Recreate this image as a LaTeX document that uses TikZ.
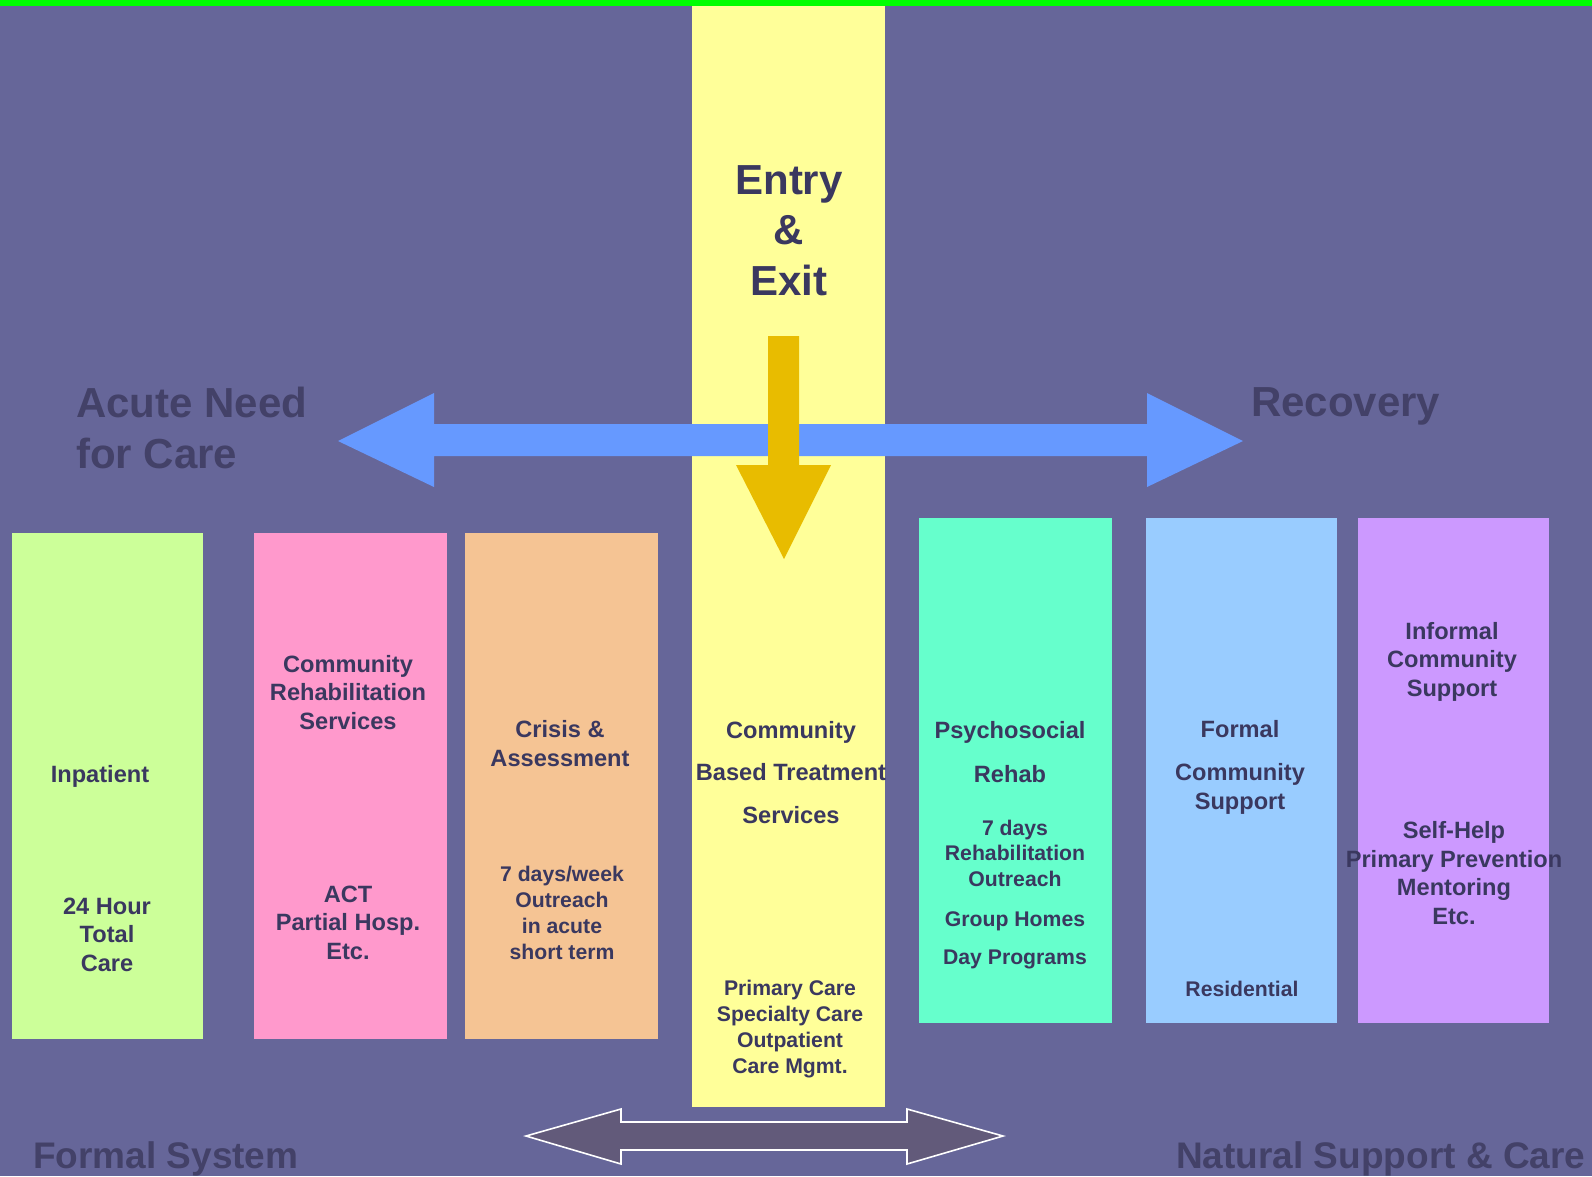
\documentclass[tikz,border=0pt]{standalone}
\usepackage{fontspec}
\setmainfont{Liberation Sans}
\usepackage{tikz}
\usetikzlibrary{calc}
\definecolor{bgpurple}{HTML}{666699}
\definecolor{topgreen}{HTML}{00FF00}
\definecolor{inkdark}{HTML}{3A385F}
\definecolor{inklabel}{HTML}{434168}
\definecolor{cgreen}{HTML}{CCFF99}
\definecolor{cpink}{HTML}{FF99CC}
\definecolor{corange}{HTML}{F5C494}
\definecolor{cyellow}{HTML}{FFFF99}
\definecolor{cteal}{HTML}{66FFCC}
\definecolor{cblue}{HTML}{99CCFF}
\definecolor{cviolet}{HTML}{CC99FF}
\definecolor{arrowblue}{HTML}{6699FF}
\definecolor{arrowgold}{HTML}{E8BC00}
\definecolor{arrowdark}{HTML}{625A7A}
% box: name, colour, left, top, right, bottom
\newcommand{\svcbox}[6]{\node[fill=#2, inner sep=0pt, anchor=north west, minimum width=#5pt-#3pt, minimum height=#6pt-#4pt] (#1) at (#3,#4) {};}
\newcommand{\bigfont}{\fontsize{42}{50.5}\selectfont\bfseries}
\newcommand{\midfont}{\fontsize{37}{44}\selectfont\bfseries}
\newcommand{\boxfont}{\fontsize{23.6}{28.5}\selectfont\bfseries}
\newcommand{\smallfont}{\fontsize{21.2}{25.7}\selectfont\bfseries}

\begin{document}
\begin{tikzpicture}[x=1pt, y=-1pt,
    lbl/.style={inner sep=0pt, anchor=base west, text=inklabel},
    txt/.style={inner sep=0pt, anchor=base, align=center, text=inkdark}]
        % (multi-line texts sit on the baseline of their last line)
        \useasboundingbox (0,0) rectangle (1592,1176);
        \fill[bgpurple] (0,0) rectangle (1592,1176);
        % centre column
        \svcbox{entry}{cyellow}{692}{0}{885}{1107}
        % arrows
        \fill[arrowblue] (338,441) -- (434,393) -- (434,424) -- (1147,424) -- (1147,393)
            -- (1243,441) -- (1147,487) -- (1147,456) -- (434,456) -- (434,487) -- cycle;
        \fill[arrowgold] (768,336) -- (799,336) -- (799,465) -- (831,465) -- (784,559)
            -- (736,465) -- (768,465) -- cycle;
        % left boxes
        \svcbox{inpat}{cgreen}{12}{533}{203}{1039}
        \svcbox{rehab}{cpink}{254}{533}{447}{1039}
        \svcbox{crisis}{corange}{465}{533}{658}{1039}
        % right boxes
        \svcbox{psych}{cteal}{919}{518}{1112}{1023}
        \svcbox{formal}{cblue}{1146}{518}{1337}{1023}
        \svcbox{informal}{cviolet}{1358}{518}{1549}{1023}
        % bottom arrow
        \filldraw[fill=arrowdark, draw=white, line width=1.6pt, line join=miter]
            (526,1136) -- (621,1109) -- (621,1122) -- (907,1122) -- (907,1109) -- (1003,1136)
            -- (907,1164) -- (907,1150) -- (621,1150) -- (621,1164) -- cycle;
        % big labels
        \node[txt, font=\bigfont] (entrytxt) at (789,295) {Entry\\\&\\Exit};
        \node[lbl, font=\bigfont, align=left] (acute) at (76,468) {Acute Need\\for Care};
        \node[lbl, font=\bigfont] (recovery) at (1251,416) {Recovery};
        \node[lbl, font=\midfont] (formalsys) at (33,1168) {Formal System};
        \node[lbl, font=\midfont] (natural) at (1176,1168) {Natural Support \& Care};
        % inpatient
        \node[txt, font=\boxfont] (inpat1) at (100,782) {Inpatient};
        \node[txt, font=\boxfont] (inpat2) at (107,971) {24 Hour\\Total\\Care};
        % rehabilitation
        \node[txt, font=\boxfont] (rehab1) at (348,729) {Community\\Rehabilitation\\Services};
        \node[txt, font=\boxfont] (rehab2) at (348,959) {ACT\\Partial Hosp.\\Etc.};
        % crisis
        \node[txt, font=\boxfont] (crisis1) at (560,766) {Crisis \&\\Assessment};
        \node[txt, font=\smallfont] (crisis2) at (562,959) {7 days/week\\Outreach\\in acute\\short term};
        % community based
        \node[txt, font=\boxfont] (entry1) at (791,823) {Community\\[14pt]Based Treatment\\[14pt]Services};
        \node[txt, font=\smallfont] (entry2) at (790,1073) {Primary Care\\Specialty Care\\Outpatient\\Care Mgmt.};
        % psychosocial
        \node[txt, font=\boxfont] (psych1) at (1010,782) {Psychosocial\\[15pt]Rehab};
        \node[txt, font=\smallfont] (psych2) at (1015,964) {7 days\\Rehabilitation\\Outreach\\[14pt]Group Homes\\[12pt]Day Programs};
        % formal community support
        \node[txt, font=\boxfont] (formal1) at (1240,809) {Formal\\[15pt]Community\\Support};
        \node[txt, font=\smallfont] (formal2) at (1242,996) {Residential};
        % informal community support
        \node[txt, font=\boxfont] (informal1) at (1452,696) {Informal\\Community\\Support};
        \node[txt, font=\boxfont] (informal2) at (1454,924) {Self-Help\\Primary Prevention\\Mentoring\\Etc.};
        % top strip
        \fill[topgreen] (0,0) rectangle (1592,6);
    \end{tikzpicture}
\end{document}
